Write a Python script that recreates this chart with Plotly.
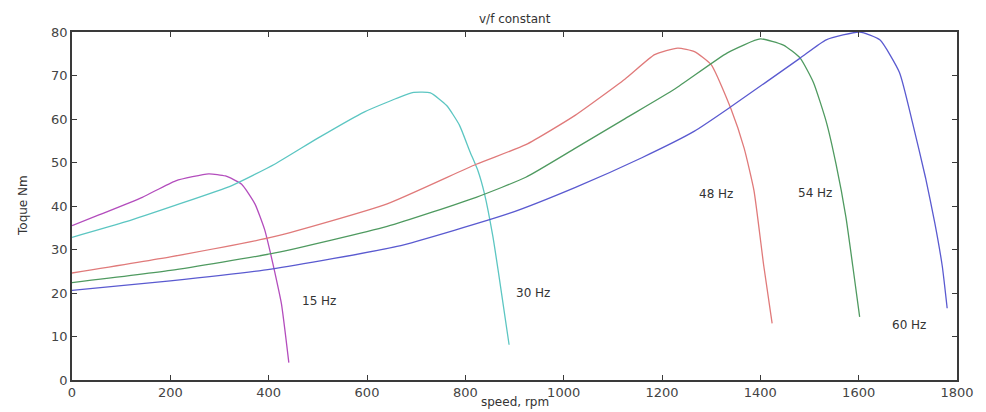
import plotly.graph_objects as go

# speed (rpm) and torque (Nm) per supply frequency
x15 = [0, 56, 143, 211, 278, 312, 345, 372, 392, 403, 413, 426, 441]
y15 = [35.5, 38, 42, 45.8, 47.4, 46.9, 45, 40.5, 34.5, 29.5, 24.5, 17.5, 4]

x30 = [0, 110, 211, 325, 412, 500, 594, 695, 729, 762, 788, 809, 826, 839, 856, 869, 889]
y30 = [32.8, 36.4, 40.2, 44.7, 49.6, 55.6, 61.6, 66.1, 66, 63.1, 58.6, 52.6, 48, 42.8, 33, 23.5, 8.1]

x48 = [0, 200, 413, 641, 822, 923, 1024, 1125, 1185, 1232, 1266, 1300, 1340, 1367, 1387, 1407, 1424]
y48 = [24.6, 28.3, 33, 40.5, 49.6, 54.1, 60.9, 69.2, 74.8, 76.3, 75.5, 72.5, 62.4, 53.3, 43.6, 26.2, 13]

x54 = [0, 200, 413, 641, 822, 923, 1024, 1125, 1226, 1333, 1400, 1447, 1481, 1508, 1534, 1554, 1574, 1588, 1602]
y54 = [22.4, 25.2, 29.2, 35.3, 42, 46.6, 53.3, 60.1, 66.9, 75.2, 78.4, 77, 74, 68.4, 59.4, 49.6, 37.5, 26.2, 14.5]

x60 = [0, 200, 405, 661, 889, 1024, 1159, 1266, 1340, 1481, 1534, 1602, 1643, 1683, 1709, 1736, 1755, 1770, 1780]
y60 = [20.6, 22.8, 25.5, 30.7, 38.3, 44.3, 51.1, 57.2, 62.8, 74, 78.2, 80, 78.2, 70.7, 59.4, 46.5, 36, 26.2, 16.5]

names = ["15 Hz", "30 Hz", "48 Hz", "54 Hz", "60 Hz"]
colors = ["#b34dbd", "#5cc6c2", "#e07a7a", "#4f9a60", "#5a5ad0"]
label_x = [464, 899, 1272, 1473, 1663]
label_y = [18.1, 19.9, 42.7, 43, 12.7]

xs = [x15, x30, x48, x54, x60]
ys = [y15, y30, y48, y54, y60]

x_ticks = [0, 200, 400, 600, 800, 1000, 1200, 1400, 1600, 1800]
y_ticks = [0, 10, 20, 30, 40, 50, 60, 70, 80]

FONT = "DejaVu Sans"
fig = go.Figure()
for xv, yv, n, c in zip(xs, ys, names, colors):
    fig.add_trace(go.Scatter(x=xv, y=yv, mode="lines", name=n,
                             line=dict(color=c, width=1.3, shape="spline", smoothing=0.5)))

for n, lx, ly in zip(names, label_x, label_y):
    fig.add_annotation(x=lx, y=ly, text=n, showarrow=False, xanchor="left",
                       yanchor="middle", font=dict(family=FONT, size=12, color="#333"))

fig.add_annotation(text="v/f constant", x=0.5, y=1, xref="paper", yref="paper",
                   yshift=13, showarrow=False, yanchor="middle",
                   font=dict(family=FONT, size=12, color="#333"))
fig.add_annotation(text="speed, rpm", x=0.5, y=0, xref="paper", yref="paper",
                   yshift=-22, showarrow=False, yanchor="middle",
                   font=dict(family=FONT, size=12, color="#333"))
fig.add_annotation(text="Toque Nm", x=0, y=0.5, xref="paper", yref="paper",
                   xshift=-49, showarrow=False, textangle=-90, xanchor="center",
                   font=dict(family=FONT, size=12, color="#333"))

axis_common = dict(showgrid=False, zeroline=False, showline=True, linecolor="#3a3a3a",
                   linewidth=1.6, mirror="ticks", ticks="inside", ticklen=5,
                   tickcolor="#3a3a3a", tickwidth=1.2,
                   tickfont=dict(family=FONT, size=13, color="#444"))

fig.update_xaxes(range=[0, 1800], tickvals=x_ticks, **axis_common)
fig.update_yaxes(range=[0, 80], tickvals=y_ticks, **axis_common)

fig.update_layout(width=986, height=412, showlegend=False,
                  paper_bgcolor="white", plot_bgcolor="white",
                  margin=dict(l=72, r=21, t=32, b=26))

fig.write_html("out.html")
